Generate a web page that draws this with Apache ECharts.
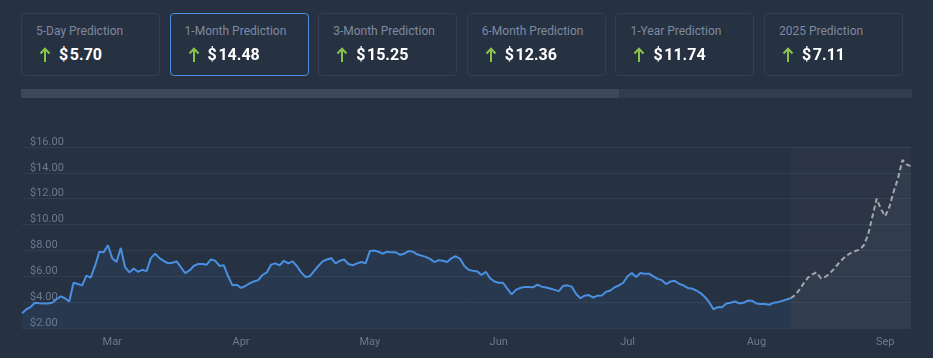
<!DOCTYPE html>
<html><head><meta charset="utf-8">
<script src="https://cdn.jsdelivr.net/npm/echarts@6/dist/echarts.min.js"></script>
<style>
html,body{margin:0;padding:0;background:#263142;width:933px;height:358px;overflow:hidden;font-family:Roboto,"Noto Sans",sans-serif}
#chart{position:absolute;left:0;top:0;width:933px;height:358px;z-index:1}
.card{position:absolute;top:13px;width:139px;height:63px;box-sizing:border-box;border:1px solid #343f52;border-radius:4px;z-index:2;background:#263142}
.card.active{border-color:#4a8fe0}
.card .t{position:absolute;left:14px;top:10px;font-size:12px;line-height:14px;color:#7d8aa0;white-space:nowrap}
.card .v{position:absolute;left:17px;top:31px;height:20px;display:flex;align-items:center;white-space:nowrap}
.card .v svg{margin-right:8px}
.card .v span{font-size:16px;font-weight:700;color:#ffffff;line-height:20px}
#bar{position:absolute;left:21px;top:89px;width:891px;height:9px;background:#323c4e;z-index:2}
#bar div{width:598px;height:9px;background:#3e4859}
</style></head>
<body>
<div id="chart"></div>
<div id="bar"><div></div></div>
<script>
// ---- data ----
const cardTitles = ['5-Day Prediction','1-Month Prediction','3-Month Prediction','6-Month Prediction','1-Year Prediction','2025 Prediction'];
const cardValues = ['5.70','14.48','15.25','12.36','11.74','7.11'];
const activeCard = 1;

const monthNames = ['Feb','Mar','Apr','May','Jun','Jul','Aug','Sep'];
const firstMonthStart = 21;   // index of "Mar 1"
const slotsPerMonth = 30;
const totalPoints = 208;

const history = [
 3.13,3.45,3.62,3.95,3.92,3.9,3.9,3.95,4.2,4.45,
 4.3,4.05,5.5,5.4,5.3,6.05,5.9,6.8,7.9,7.85,
 8.4,7.4,7.1,8.2,6.7,6.3,6.6,6.35,6.5,6.4,
 7.4,7.75,7.4,7.2,7.0,7.05,7.15,6.7,6.25,6.45,
 6.8,6.95,6.95,6.9,7.3,7.2,6.8,6.85,6.0,5.3,
 5.35,5.1,5.25,5.45,5.6,5.7,6.1,6.3,6.9,7.0,
 6.85,7.2,7.0,7.15,6.8,6.3,5.95,6.0,6.4,6.8,
 7.15,7.3,7.4,7.0,7.2,7.3,6.95,6.85,7.0,7.1,
 7.0,7.95,8.0,7.9,7.75,7.9,7.85,7.85,7.67,7.75,
 7.95,7.9,7.7,7.6,7.5,7.35,7.1,7.25,7.2,7.1,
 7.4,7.55,7.35,6.8,6.5,6.42,6.38,6.1,6.35,5.85,
 5.6,5.5,5.5,5.05,4.6,4.95,5.1,5.18,5.18,5.15,
 5.35,5.2,5.13,5.05,4.95,4.85,5.25,5.3,5.2,4.65,
 4.3,4.5,4.55,4.35,4.5,4.52,4.8,4.9,5.15,5.3,
 5.5,6.0,6.25,5.95,6.25,6.2,6.2,6.0,5.8,5.7,
 5.4,5.6,5.65,5.42,5.3,5.1,5.05,4.9,4.7,4.4,
 4.0,3.45,3.62,3.6,3.9,3.95,4.05,3.9,3.95,4.12,
 4.1,3.9,3.85,3.85,3.8,3.95,4.0,4.1,4.2,4.3
];
const forecastStart = 179;
const forecast = [
 4.3,4.55,4.95,5.45,5.9,6.15,6.3,5.85,5.95,6.2,
 6.55,6.95,7.3,7.6,7.8,7.95,8.05,8.4,9.2,10.6,
 12.0,11.2,10.65,11.4,12.6,13.6,15.0,14.65,14.5
];
const yTicks = {min:2, max:16, step:2};

// ---- cards ----
const arrowSvg = '<svg width="12" height="16" viewBox="0 0 12 16"><path d="M6 15V2M1.5 6.5L6 1.8L10.5 6.5" fill="none" stroke="#8bc34a" stroke-width="2"/></svg>';
cardTitles.forEach((t,i)=>{
  const d=document.createElement('div');
  d.className='card'+(i===activeCard?' active':'');
  d.style.left=(21+i*148.6)+'px';
  d.innerHTML='<div class="t">'+t+'</div><div class="v">'+arrowSvg+'<span>$\u200A'+cardValues[i]+'</span></div>';
  document.body.appendChild(d);
});

// ---- categories ----
const categories=[];
for(let i=0;i<totalPoints;i++){
  const k=i-firstMonthStart;
  const m=Math.floor(k/slotsPerMonth)+1;
  const day=((k%slotsPerMonth)+slotsPerMonth)%slotsPerMonth+1;
  categories.push(monthNames[m]+' '+day);
}
const histFull = categories.map((c,i)=> i<history.length ? history[i] : null);
const foreFull = categories.map((c,i)=> (i>=forecastStart && i-forecastStart<forecast.length) ? forecast[i-forecastStart] : null);

const chart = echarts.init(document.getElementById('chart'), null, {renderer:'canvas'});
chart.setOption({
  backgroundColor:'transparent',
  animation:false,
  grid:{left:22,right:22,top:147,bottom:30},
  xAxis:{type:'category',data:categories,boundaryGap:false,
    axisLine:{show:false},axisTick:{show:false},splitLine:{show:false},
    axisLabel:{interval:(idx,val)=>/ 1$/.test(val),formatter:v=>v.split(' ')[0],
      color:'#6b7990',fontSize:11,margin:9,fontFamily:'Roboto'}},
  yAxis:{type:'value',min:yTicks.min,max:yTicks.max,interval:yTicks.step,
    axisLine:{show:false},axisTick:{show:false},
    axisLabel:{inside:true,margin:8,verticalAlign:'bottom',lineHeight:10,
      formatter:v=>'$'+v.toFixed(2),color:'#6b7990',fontSize:11,fontFamily:'Roboto'},
    splitLine:{lineStyle:{color:'#323d4f',width:1}}},
  series:[
    {type:'line',data:histFull,symbol:'none',connectNulls:false,z:3,
      lineStyle:{color:'#4a90e2',width:2},
      areaStyle:{color:'rgba(74,144,226,0.12)'}},
    {type:'line',data:foreFull,symbol:'none',z:2,
      lineStyle:{color:'#a3a7ad',width:2,type:[5,3]},
      areaStyle:{color:'rgba(255,255,255,0.05)'},
      markArea:{silent:true,itemStyle:{color:'rgba(255,255,255,0.025)'},
        data:[[{xAxis:categories[forecastStart]},{xAxis:categories[totalPoints-1]}]]}}
  ]
});
</script>
</body></html>
